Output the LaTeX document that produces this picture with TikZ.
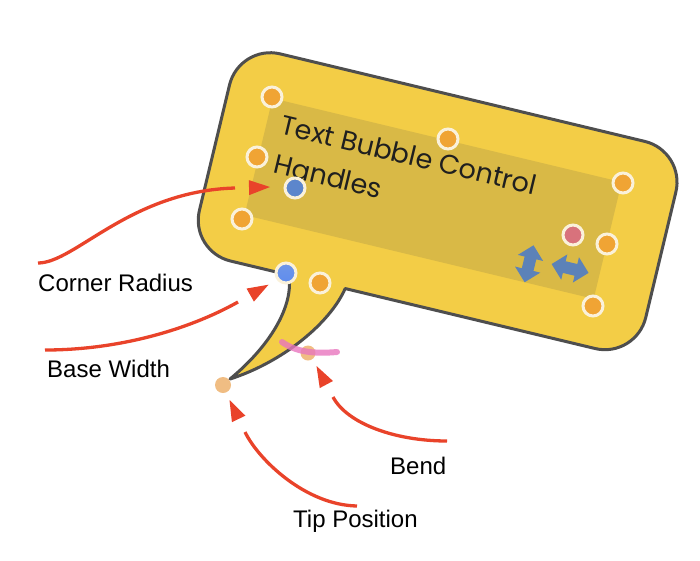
\documentclass[tikz,border=0pt]{standalone}
\usepackage{fontspec}
\setmainfont{Liberation Sans}
\newfontfamily\bubblefont{Poppins}
\usetikzlibrary{calc}
\definecolor{bubbleyellow}{RGB}{243,205,70}
\definecolor{innerbox}{RGB}{217,185,70}
\definecolor{outlinegray}{RGB}{78,78,78}
\definecolor{handleorange}{RGB}{240,164,52}
\definecolor{ringcol}{RGB}{250,241,218}
\definecolor{handleblue}{RGB}{92,134,204}
\definecolor{baseblueA}{RGB}{110,150,232}
\definecolor{baseblueB}{RGB}{45,95,205}
\definecolor{baseblueC}{RGB}{95,140,238}
\definecolor{handlered}{RGB}{216,114,124}
\definecolor{arrowred}{RGB}{233,67,42}
\definecolor{moveblue}{RGB}{92,130,184}
\definecolor{fadedorange}{RGB}{236,172,100}
\definecolor{bendpink}{RGB}{232,118,190}
\begin{document}
\begin{tikzpicture}[x=1pt,y=-1pt,
  handle/.style={circle, inner sep=0pt, minimum size=20pt, line width=3pt, draw=ringcol, fill=handleorange},
  fadedot/.style={circle, inner sep=0pt, minimum size=16pt, fill=fadedorange, opacity=0.8},
  redline/.style={draw=arrowred, line width=3.3pt},
  callout/.style={font=\fontsize{24}{28}\selectfont, inner sep=0pt, anchor=base west},
  bubbletext/.style={font=\bubblefont\fontsize{27}{30}\selectfont, text=black!88, inner sep=0pt, anchor=base west, rotate=-13.5},
  ]
\useasboundingbox (0,0) rectangle (700,560);
% tail geometry (screen coordinates)
\coordinate (tip) at (230,379);
\coordinate (rc1) at (330,323);
\coordinate (rc2) at (283,362);
\coordinate (lc1) at (270,346);
\coordinate (lc2) at (294,306);
\begin{scope}[x={(0.9724pt,-0.2334pt)}, y={(-0.2334pt,-0.9724pt)}]
  \coordinate (tl) at (345,200);
  \coordinate (tr) at (403,200);
  \draw[line width=3pt, draw=outlinegray, fill=bubbleyellow, line join=round]
    (tl) -- (285,200) .. controls (261.8,200) and (243,181.2) .. (243,158)
    -- (243,29) .. controls (243,5.8) and (261.8,-13) .. (285,-13)
    -- (660,-13) .. controls (683.2,-13) and (702,5.8) .. (702,29)
    -- (702,158) .. controls (702,181.2) and (683.2,200) .. (660,200)
    -- (tr) .. controls (rc1) and (rc2) .. (tip)
    .. controls (lc1) and (lc2) .. (tl) -- cycle;
  \fill[innerbox] (288,32) -- (647,32) -- (647,152) -- (288,152) -- cycle;
  \node[bubbletext] (line1) at (303,65) {Text Bubble Control};
  \node[bubbletext] (line2) at (305,104.5) {Handles};
  \fill[moveblue, shift={(576,133)}]
    (0,-19) -- (13,-6) -- (6,-6) -- (6,6) -- (13,6) -- (0,19)
    -- (-13,6) -- (-6,6) -- (-6,-6) -- (-13,-6) -- cycle;
  \fill[moveblue, shift={(617,128)}]
    (-19,0) -- (-6,-13) -- (-6,-6) -- (6,-6) -- (6,-13) -- (19,0)
    -- (6,13) -- (6,6) -- (-6,6) -- (-6,13) -- cycle;
\end{scope}
% handles
\node[handle] (h1) at (272,97) {};
\node[handle] (h2) at (448,139) {};
\node[handle] (h3) at (623,183) {};
\node[handle] (h4) at (257,157) {};
\node[handle] (h5) at (242,219) {};
\node[handle] (h6) at (607,244) {};
\node[handle] (h7) at (593,306) {};
\node[handle] (h8) at (320,283) {};
\node[handle, fill=handleblue] (hb) at (295,188) {};
\node[handle, top color=baseblueA, middle color=baseblueB, bottom color=baseblueC] (hbase) at (286,273) {};
\node[handle, fill=handlered] (hr) at (573,235) {};
\node[fadedot] (htip) at (223,385) {};
\node[fadedot, minimum size=15pt] (hbend) at (308,353) {};
\draw[bendpink, line width=6pt, line cap=round, opacity=0.8]
  (282,342) .. controls (296,352) and (314,354) .. (337,352);
% labels
\node[callout] (lcr) at (38,291) {Corner Radius};
\node[callout] (lbw) at (47,377) {Base Width};
\node[callout] (lbe) at (390,474) {Bend};
\node[callout] (ltp) at (293,527) {Tip Position};
% arrows: curve ends, gap, then separate triangular head
\coordinate (crS) at (38,263);  \coordinate (crV) at (235,188);  \coordinate (crT) at (270,187);
\coordinate (bwS) at (45,350);  \coordinate (bwV) at (238,302);  \coordinate (bwT) at (268.5,284.7);
\coordinate (beS) at (447,441); \coordinate (beV) at (333,397);  \coordinate (beT) at (316.5,366);
\coordinate (tpS) at (357,506); \coordinate (tpV) at (245,432);  \coordinate (tpT) at (229.5,400);
\draw[redline] (crS) .. controls (75,263) and (130,191) .. (crV);
\draw[redline] (bwS) .. controls (120,350) and (190,329) .. (bwV);
\draw[redline] (beS) .. controls (395,441) and (347,423.5) .. (beV);
\draw[redline] (tpS) .. controls (305,505) and (258,459) .. (tpV);
\foreach \a in {cr,bw,be,tp}{
  \coordinate (\a B) at ($(\a T)!21pt!(\a V)$);
  \fill[arrowred] (\a T) -- ($(\a B)!7.5pt!90:(\a T)$) -- ($(\a B)!7.5pt!-90:(\a T)$) -- cycle;
}
\end{tikzpicture}
\end{document}
